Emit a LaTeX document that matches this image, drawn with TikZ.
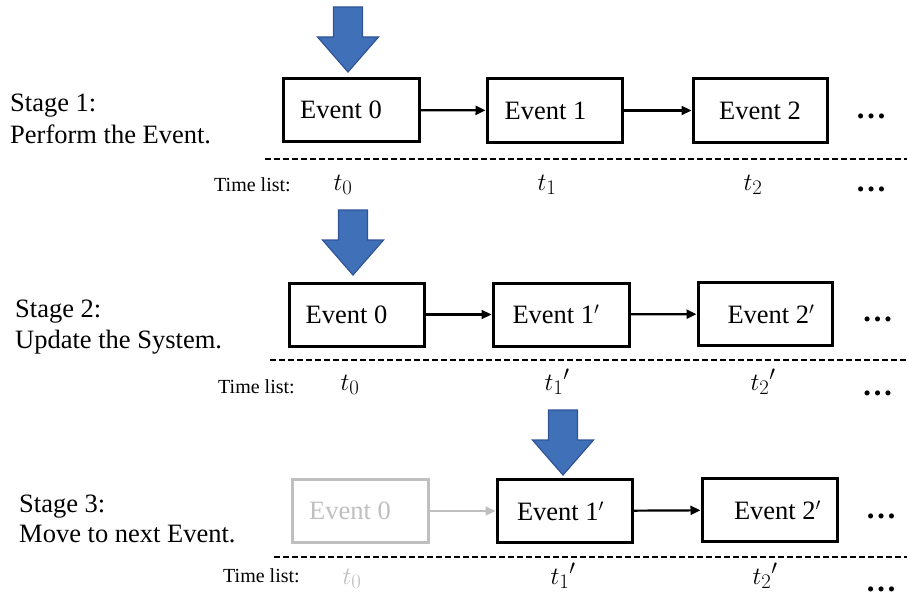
\documentclass[tikz,border=0pt]{standalone}
\usepackage{fontspec}
\setmainfont{Liberation Serif}
\usetikzlibrary{arrows.meta}
\definecolor{bluefill}{HTML}{4070B8}
\definecolor{blueedge}{HTML}{2F5597}
\definecolor{ghost}{HTML}{BFBFBF}
\tikzset{
  evbox/.style={draw=black, line width=3pt, inner sep=0pt, minimum width=135pt, minimum height=63pt,
    font=\fontsize{26.5}{30}\selectfont},
  ghostbox/.style={evbox, draw=ghost, text=ghost},
  conn/.style={line width=2.2pt, -{Triangle[length=10pt,width=9pt]}},
  ghostconn/.style={conn, draw=ghost},
  sepline/.style={line width=1.8pt, dash pattern=on 6pt off 3pt},
  stagetxt/.style={anchor=base west, inner sep=0pt, font=\fontsize{26.5}{30}\selectfont},
  tltxt/.style={anchor=base west, inner sep=0pt, font=\fontsize{20}{24}\selectfont},
  tval/.style={anchor=base, inner sep=0pt, font=\fontsize{28}{30}\selectfont},
  dots/.style={anchor=base, inner sep=0pt, font=\fontsize{31}{32}\selectfont\bfseries},
  bluedown/.pic={\draw[fill=bluefill, draw=blueedge, line width=1.2pt, line join=miter]
     (-14.5,-65) -- (14.5,-65) -- (14.5,-35) -- (30.5,-35) -- (0,0) -- (-30.5,-35) -- (-14.5,-35) -- cycle;}
}
\begin{document}
\begin{tikzpicture}[x=1pt,y=-1pt]
\useasboundingbox (0,0) rectangle (907,599);

% ---------- Stage 1 ----------
\node[stagetxt] (s1a) at (10,112) {Stage 1:};
\node[stagetxt] (s1b) at (10,143) {Perform the Event.};
\node[evbox, minimum width=136pt] (a0) at (351,110) {Event 0\hspace*{20pt}};
\node[evbox] (a1) at (554.5,110.5) {Event 1\hspace*{18pt}};
\node[evbox, minimum width=134pt] (a2) at (760,110.5) {Event 2};
\node[dots] (ad) at (871,118) {…};
\draw[conn] (a0) -- (a1);
\draw[conn] (a1) -- (a2);
\coordinate (l1a) at (265,159);
\coordinate (l1b) at (907,159);
\draw[sepline] (l1a) -- (l1b);
\node[tltxt] (tl1) at (214,191) {Time list:};
\node[tval] (a0t) at (343,190) {$t_0$};
\node[tval] (a1t) at (547,190) {$t_1$};
\node[tval] (a2t) at (753,190) {$t_2$};
\node[dots] (atd) at (871,191) {…};
\pic at (348,72) {bluedown};

% ---------- Stage 2 ----------
\node[stagetxt] (s2a) at (15,317) {Stage 2:};
\node[stagetxt] (s2b) at (15,348) {Update the System.};
\node[evbox] (b0) at (356.5,314.5) {Event 0\hspace*{20pt}};
\node[evbox, minimum width=136pt] (b1) at (561,314.5) {Event 1$'$\hspace*{10pt}};
\node[evbox, minimum width=134pt] (b2) at (765,314) {\hspace*{12pt}Event 2$'$};
\node[dots] (bd) at (877.5,321) {…};
\draw[conn] (b0) -- (b1);
\draw[conn] (b1) -- (b2);
\coordinate (l2a) at (270,360);
\coordinate (l2b) at (907,360);
\draw[sepline] (l2a) -- (l2b);
\node[tltxt] (tl2) at (218,393) {Time list:};
\node[tval] (b0t) at (350,390) {$t_0$};
\node[tval] (b1t) at (557,390) {$t_1{}'$};
\node[tval] (b2t) at (763,390) {$t_2{}'$};
\node[dots] (btd) at (877.5,395) {…};
\pic at (353,275) {bluedown};

% ---------- Stage 3 ----------
\node[stagetxt] (s3a) at (19,512) {Stage 3:};
\node[stagetxt] (s3b) at (19,542) {Move to next Event.};
\node[ghostbox, minimum width=136pt] (c0) at (360,511) {Event 0\hspace*{20pt}};
\node[evbox] (c1) at (564.5,511) {Event 1$'$\hspace*{8pt}};
\node[evbox] (c2) at (769.5,510) {\hspace*{16pt}Event 2$'$};
\node[dots] (cd) at (881,518) {…};
\draw[ghostconn] (c0) -- (c1);
\draw[conn] (c1) -- (c2);
\coordinate (l3a) at (274,557);
\coordinate (l3b) at (907,557);
\draw[sepline] (l3a) -- (l3b);
\node[tltxt] (tl3) at (223,582) {Time list:};
\node[tval, text=ghost] (c0t) at (352,584) {$t_0$};
\node[tval] (c1t) at (563,584) {$t_1{}'$};
\node[tval] (c2t) at (765,584) {$t_2{}'$};
\node[dots] (ctd) at (881,591) {…};
\pic at (563,475) {bluedown};
\end{tikzpicture}
\end{document}
